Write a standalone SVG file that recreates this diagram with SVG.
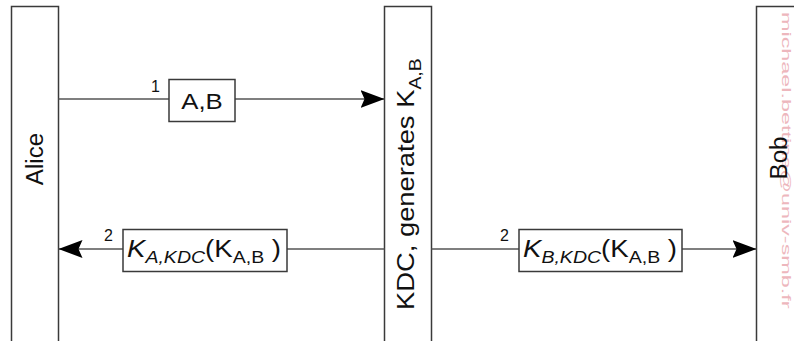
<svg xmlns="http://www.w3.org/2000/svg" width="794" height="341" viewBox="0 0 794 341">
<style>
.lane{fill:#fff;stroke:#3a3a3a;stroke-width:1.5}
.msgbox{fill:#fff;stroke:#3a3a3a;stroke-width:1.5}
.conn{fill:none;stroke:#555;stroke-width:1.5}
.t{font-family:"Liberation Sans",Arial,sans-serif;fill:#111}
.num{font-family:"Liberation Sans",Arial,sans-serif;font-size:16px;fill:#111}
.wm{font-family:"Liberation Sans",Arial,sans-serif;font-size:12px;fill:#e8a0a8;opacity:0.75}
</style>
<defs>
<marker id="ah" markerUnits="userSpaceOnUse" markerWidth="26" markerHeight="20" refX="24" refY="9" orient="auto">
<path d="M24,9 L0,0 L4,9 L0,18 Z" fill="#000"/>
</marker>
</defs>
<rect width="794" height="341" fill="#fff"/>
<g id="alice">
<rect class="lane" x="11.5" y="6.5" width="47" height="345"/>
<text class="t" font-size="23" text-anchor="middle" transform="translate(43,159) rotate(-90) scale(1.05,1)">Alice</text>
</g>
<g id="kdc">
<rect class="lane" x="384.5" y="6.5" width="47" height="345"/>
<text class="t" font-size="24" transform="translate(414,310) rotate(-90) scale(1.14,1)">KDC, generates K<tspan font-size="17" dy="7">A,B</tspan></text>
</g>
<g id="bob">
<rect class="lane" x="756.5" y="6.5" width="60" height="345"/>
<text class="wm" transform="translate(782,12) rotate(90) scale(1.95,1)">michael.bettina@univ-smb.fr</text>
<text class="t" font-size="23" text-anchor="middle" transform="translate(787,158) rotate(-90) scale(1.05,1)">Bob</text>
</g>
<g id="connectors">
<line class="conn" x1="58.5" y1="99" x2="169" y2="99"/>
<line class="conn" x1="235" y1="99" x2="384.5" y2="99" marker-end="url(#ah)"/>
<line class="conn" x1="123" y1="249" x2="58.5" y2="249" marker-end="url(#ah)"/>
<line class="conn" x1="384.5" y1="249" x2="287" y2="249"/>
<line class="conn" x1="431.5" y1="249" x2="519" y2="249"/>
<line class="conn" x1="682" y1="249" x2="756.5" y2="249" marker-end="url(#ah)"/>
</g>
<g id="msg1">
<rect class="msgbox" x="169" y="79.5" width="66" height="42"/>
<text class="t" font-size="23" text-anchor="middle" transform="translate(202,109) scale(1.12,1)">A,B</text>
<text class="num" x="151" y="92">1</text>
</g>
<g id="msg2a">
<rect class="msgbox" x="123" y="229.5" width="164" height="42"/>
<text class="t" font-size="24" transform="translate(127,257) scale(1.15,1)"><tspan font-style="italic">K</tspan><tspan font-style="italic" font-size="17" dy="6">A,KDC</tspan><tspan dy="-6">(K</tspan><tspan font-size="17" dy="6">A,B</tspan><tspan dy="-6"> )</tspan></text>
<text class="num" x="104" y="241">2</text>
</g>
<g id="msg2b">
<rect class="msgbox" x="519" y="229.5" width="163" height="42"/>
<text class="t" font-size="24" transform="translate(523,257) scale(1.15,1)"><tspan font-style="italic">K</tspan><tspan font-style="italic" font-size="17" dy="6">B,KDC</tspan><tspan dy="-6">(K</tspan><tspan font-size="17" dy="6">A,B</tspan><tspan dy="-6"> )</tspan></text>
<text class="num" x="500" y="241">2</text>
</g>
</svg>
